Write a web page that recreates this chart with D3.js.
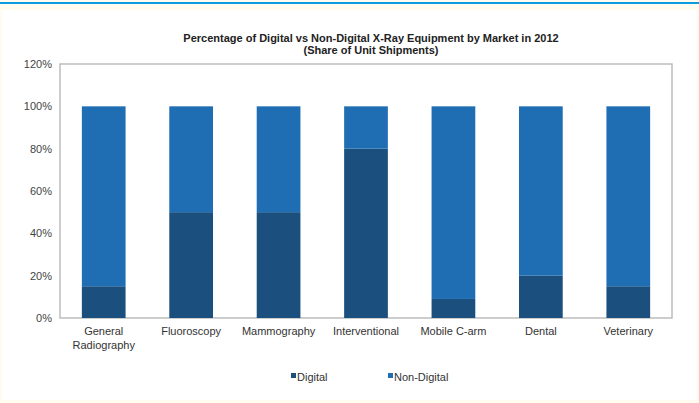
<!DOCTYPE html>
<html>
<head>
<meta charset="utf-8">
<script src="https://cdn.jsdelivr.net/npm/d3@7"></script>
<style>
  body { margin: 0; background: #fffbef; }
  text { font-family: "Liberation Sans", Arial, sans-serif; }
</style>
</head>
<body>
<div id="container"></div>
<script>
/* CONSTANTS AND GLOBALS */
const width = 699,
  height = 403,
  margin = { top: 64, right: 27, bottom: 85, left: 60 };

/* DATA */
const categories = ["General Radiography", "Fluoroscopy", "Mammography", "Interventional", "Mobile C-arm", "Dental", "Veterinary"];
const digital = [15, 50, 50, 80, 9, 20, 15];
const nonDigital = [85, 50, 50, 20, 91, 80, 85];
const yTicks = [0, 20, 40, 60, 80, 100, 120];
const seriesNames = ["Digital", "Non-Digital"];
const colors = ["#1b4f7d", "#1f6db3"];

const svg = d3.select("#container")
  .append("svg")
  .attr("width", width)
  .attr("height", height)
  .style("display", "block")
  .style("background-color", "#fffbef");

// top blue rule
svg.append("rect").attr("x", 0).attr("y", 2).attr("width", width).attr("height", 2).attr("fill", "#0a9be0");

// white panel
svg.append("rect").attr("x", 2).attr("y", 10).attr("width", width - 4).attr("height", height - 13).attr("fill", "#ffffff");

/* SCALES */
const xScale = d3.scaleBand()
  .domain(categories)
  .range([margin.left, width - margin.right])
  .paddingInner(0.5)
  .paddingOuter(0.25);

const yScale = d3.scaleLinear()
  .domain([0, 120])
  .range([height - margin.bottom, margin.top]);

const color = d3.scaleOrdinal().domain(seriesNames).range(colors);

const table = categories.map((c, i) => ({ cat: c, "Digital": digital[i], "Non-Digital": nonDigital[i] }));
const stacked = d3.stack().keys(seriesNames)(table);

/* TITLE */
svg.append("text")
  .attr("x", 371).attr("y", 42)
  .attr("text-anchor", "middle")
  .style("font-size", "11px").style("font-weight", "bold").style("fill", "#222")
  .text("Percentage of Digital vs Non-Digital X-Ray Equipment by Market in 2012");
svg.append("text")
  .attr("x", 371).attr("y", 54)
  .attr("text-anchor", "middle")
  .style("font-size", "11px").style("font-weight", "bold").style("fill", "#222")
  .text("(Share of Unit Shipments)");

/* PLOT BORDER */
svg.append("rect")
  .attr("x", margin.left).attr("y", margin.top)
  .attr("width", width - margin.left - margin.right)
  .attr("height", height - margin.top - margin.bottom)
  .attr("fill", "none").attr("stroke", "#bdbdbd").attr("stroke-width", 1.5);

/* AXES */
const yAxis = svg.append("g")
  .attr("transform", `translate(${margin.left},0)`)
  .call(d3.axisLeft(yScale).tickValues(yTicks).tickSize(0).tickPadding(8).tickFormat(d => d + "%"));
yAxis.select(".domain").remove();
yAxis.selectAll("text").style("font-size", "11px").style("fill", "#444").style("font-family", "Liberation Sans, Arial, sans-serif");

const xAxis = svg.append("g")
  .attr("transform", `translate(0,${height - margin.bottom})`)
  .call(d3.axisBottom(xScale).tickSize(0).tickPadding(9));
xAxis.select(".domain").remove();
xAxis.selectAll("text")
  .style("font-size", "11px").style("fill", "#333").style("font-family", "Liberation Sans, Arial, sans-serif")
  .each(function (d) {
    const t = d3.select(this);
    if (d === "General Radiography") {
      t.text(null);
      t.append("tspan").attr("x", 0).attr("dy", "0.71em").text("General");
      t.append("tspan").attr("x", 0).attr("dy", "1.25em").text("Radiography");
      t.attr("dy", null);
    }
  });

/* BARS */
svg.append("g").selectAll("g")
  .data(stacked)
  .join("g")
  .attr("fill", d => color(d.key))
  .selectAll("rect")
  .data(d => d)
  .join("rect")
  .attr("x", d => xScale(d.data.cat))
  .attr("width", xScale.bandwidth())
  .attr("y", d => yScale(d[1]))
  .attr("height", d => yScale(d[0]) - yScale(d[1]));

/* LEGEND */
const legendX = [291, 388];
const legend = svg.append("g").selectAll("g")
  .data(seriesNames)
  .join("g")
  .attr("transform", (d, i) => `translate(${legendX[i]},377)`);
legend.append("rect")
  .attr("x", 0).attr("y", -4).attr("width", 5).attr("height", 5)
  .attr("fill", d => color(d));
legend.append("text")
  .attr("x", 6).attr("y", 0).attr("dy", "0.35em")
  .style("font-size", "11px").style("fill", "#333")
  .text(d => d);
</script>
</body>
</html>
